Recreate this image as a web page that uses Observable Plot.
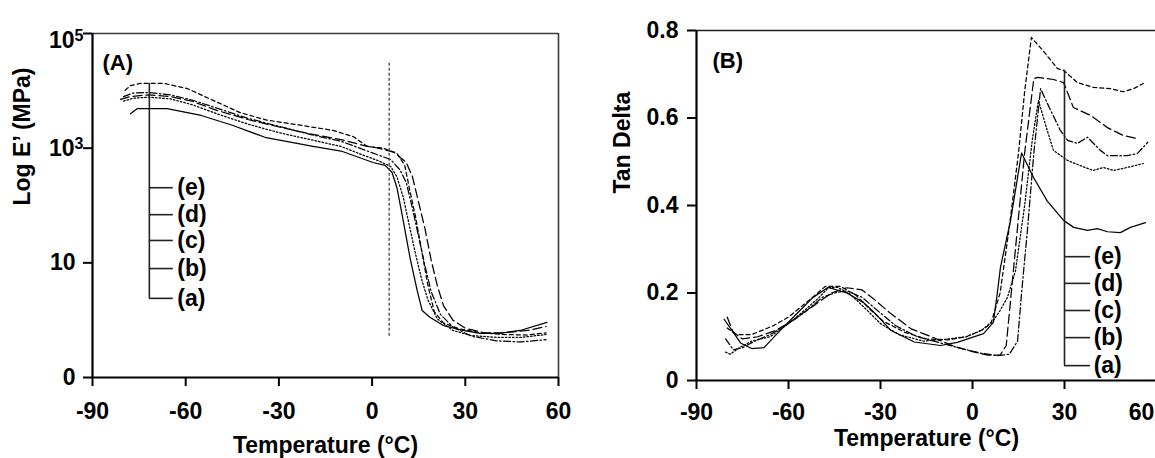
<!DOCTYPE html>
<html>
<head>
<meta charset="utf-8">
<script src="https://cdn.jsdelivr.net/npm/d3@7"></script>
<script src="https://cdn.jsdelivr.net/npm/@observablehq/plot@0.6"></script>
<style>
  html, body { margin: 0; padding: 0; background: #fff; }
  #wrap { position: relative; width: 1155px; height: 458px; overflow: hidden; background: #fff;
          font-family: "Liberation Sans", Arial, sans-serif; }
  #left { position: absolute; left: 0; top: 0; width: 580px; height: 458px; }
  #right { position: absolute; left: 580px; top: 0; width: 600px; height: 458px; }
  #wrap svg { max-width: none !important; }
  #wrap svg text { font-weight: bold !important; fill: #000; }
</style>
</head>
<body>
<div id="wrap"><div id="left"></div><div id="right"></div></div>
<script>
// ---------- data ----------
const tempTicks = [-90, -60, -30, 0, 30, 60];
const logTicks = [-1, 1, 3, 5];
const logTickLabels = ["0", "10", "10^3", "10^5"];
const tanTicks = [0, 0.2, 0.4, 0.6, 0.8];
const seriesLabels = ["(a)", "(b)", "(c)", "(d)", "(e)"];

// Panel A: log10 E' (MPa) vs temperature (°C)
const modA = [[-77.8,3.60],[-75.5,3.69],[-66,3.69],[-55,3.57],[-45,3.40],[-34.5,3.19],[-19,3.03],[-10,2.95],[0.3,2.75],[4.2,2.70],[6.4,2.58],[8,2.31],[10,1.74],[12.2,1.09],[14.5,0.52],[16.1,0.17],[18.6,0.05],[22.8,-0.09],[29.3,-0.18],[34.7,-0.23],[41,-0.23],[47.6,-0.18],[56.3,-0.04]];
const modB = [[-80,3.82],[-77,3.87],[-72,3.89],[-65,3.86],[-58,3.76],[-50,3.6],[-40,3.42],[-30,3.27],[-20,3.15],[-10,3.03],[-3,2.88],[2,2.78],[6,2.68],[8,2.5],[10,2.15],[12,1.65],[14,1.15],[16,0.7],[18,0.35],[21,0.02],[26,-0.18],[32,-0.27],[40,-0.3],[48,-0.3],[56,-0.25]];
const modC = [[-80,3.9],[-77,3.96],[-72,3.97],[-65,3.93],[-58,3.84],[-50,3.7],[-40,3.52],[-30,3.38],[-20,3.24],[-10,3.12],[-3,2.98],[2,2.88],[6,2.8],[9,2.62],[11,2.4],[13,1.95],[15,1.45],[17,0.95],[19,0.5],[22,0.1],[26,-0.12],[32,-0.28],[40,-0.36],[48,-0.38],[56,-0.34]];
const modD = [[-81,3.85],[-78,3.9],[-72,3.93],[-65,3.9],[-58,3.82],[-50,3.66],[-40,3.5],[-30,3.37],[-20,3.25],[-10,3.15],[-3,3.05],[2,3.0],[7,2.93],[11,2.75],[13,2.5],[15,2.05],[17,1.6],[19,1.05],[21,0.6],[23,0.25],[26,0.0],[30,-0.14],[36,-0.22],[42,-0.22],[50,-0.18],[56,-0.11]];
const modE = [[-79.5,4.01],[-77.8,4.09],[-74.6,4.13],[-67,4.13],[-59.5,4.04],[-51,3.83],[-42.5,3.62],[-34,3.49],[-23,3.40],[-12.6,3.31],[-6,3.2],[-1.6,3.03],[3.5,3.0],[8,2.91],[10.5,2.7],[12,2.3],[14,1.8],[16,1.2],[18,0.6],[20,0.15],[23,-0.05],[28,-0.15],[35,-0.22],[42,-0.25],[50,-0.26],[56,-0.22]];

// Panel B: tan delta vs temperature (°C)
const tanA = [[-81,0.14],[-78,0.11],[-75.5,0.085],[-72,0.073],[-68,0.075],[-62.6,0.115],[-57,0.155],[-52,0.19],[-47,0.213],[-41,0.20],[-35.5,0.178],[-32,0.155],[-26.7,0.115],[-19,0.088],[-10.4,0.08],[-5,0.087],[3.6,0.107],[6.8,0.133],[8.1,0.2],[9.1,0.258],[12.4,0.366],[16,0.52],[19.9,0.464],[24.4,0.41],[29.7,0.366],[33,0.35],[37.5,0.343],[40.7,0.347],[44,0.34],[48.2,0.338],[51.5,0.35],[56.4,0.361]];
const tanB = [[-80.5,0.065],[-79,0.06],[-76,0.075],[-72,0.09],[-66,0.1],[-60,0.13],[-54,0.165],[-50,0.19],[-47,0.212],[-44,0.213],[-40,0.198],[-35,0.165],[-30,0.13],[-24,0.105],[-16,0.09],[-8,0.095],[-2,0.1],[3,0.115],[6.8,0.137],[9,0.16],[11.4,0.19],[14,0.25],[17,0.4],[19.5,0.55],[21.5,0.64],[24.4,0.571],[26.4,0.526],[31,0.503],[35.2,0.491],[39.4,0.48],[42.7,0.487],[46,0.48],[50.5,0.487],[55.7,0.496]];
const tanC = [[-80.5,0.095],[-78,0.07],[-75,0.075],[-71,0.09],[-66,0.105],[-60,0.13],[-54,0.16],[-49,0.19],[-45,0.2],[-41,0.205],[-36,0.19],[-31,0.16],[-25,0.125],[-18,0.1],[-10,0.085],[-3,0.072],[3,0.062],[8,0.057],[12,0.06],[14.7,0.09],[16,0.2],[17.9,0.343],[20,0.52],[22.2,0.667],[25.5,0.617],[28.7,0.571],[31,0.549],[34.2,0.542],[37.5,0.556],[41.7,0.526],[44,0.514],[50.5,0.514],[53.8,0.519],[57.1,0.544]];
const tanD = [[-80,0.145],[-78,0.11],[-75,0.095],[-70,0.1],[-64,0.115],[-58,0.14],[-52,0.17],[-46,0.2],[-41,0.212],[-36,0.207],[-32,0.185],[-27,0.155],[-20,0.118],[-12,0.096],[-6,0.078],[0,0.066],[5,0.058],[9,0.058],[11,0.08],[14,0.3],[17,0.52],[20,0.69],[21.2,0.693],[26.4,0.688],[29.7,0.681],[32.9,0.624],[38.5,0.606],[44,0.578],[49.2,0.56],[53.8,0.553]];
const tanE = [[-80,0.12],[-77,0.105],[-72,0.105],[-65,0.125],[-60,0.145],[-53,0.185],[-48,0.215],[-43,0.215],[-38,0.195],[-33,0.16],[-29,0.135],[-22,0.11],[-15,0.095],[-8,0.093],[-2,0.1],[3,0.115],[6,0.13],[9,0.2],[12,0.35],[15,0.52],[17,0.66],[19.2,0.784],[23,0.754],[27.7,0.713],[29.7,0.709],[34.2,0.681],[39.4,0.67],[45,0.667],[49.2,0.66],[52.5,0.667],[55.7,0.679]];

// ---------- styling ----------
const dashes = [undefined, "1.6,2", "7,2.5,1.5,2.5", "9,4", "4,3"];
const FONT = "'Liberation Sans', Arial, Helvetica, sans-serif";

function seriesMarks(list) {
  return list.map((s, i) => Plot.line(s, {
    x: d => d[0], y: d => d[1], stroke: "#000", strokeWidth: 1.25,
    strokeDasharray: dashes[i], curve: "linear"
  }));
}

function legendMarks(levels, x0, x1, xText, yTop) {
  return [
    Plot.ruleX([x0], {y1: yTop, y2: levels[0], stroke: "#222", strokeWidth: 1.6}),
    Plot.ruleY(levels, {x1: x0, x2: x1, stroke: "#222", strokeWidth: 1.6}),
    Plot.text(levels, {x: xText, y: d => d, text: (d, i) => seriesLabels[i],
      textAnchor: "start", lineAnchor: "middle", fontSize: 23, fontWeight: "bold", fill: "#000"})
  ];
}

// ---------- Panel A ----------
const left = Plot.plot({
  width: 580, height: 458,
  marginLeft: 92, marginRight: 22, marginTop: 33, marginBottom: 81,
  style: {fontFamily: FONT, fontSize: "23px", fontWeight: "bold", color: "#000", background: "transparent", overflow: "visible"},
  x: {domain: [-90, 60]},
  y: {domain: [-1, 5]},
  marks: [
    ...seriesMarks([modA, modB, modC, modD, modE]),
    Plot.ruleX([5.5], {y1: 4.48, y2: -0.29, stroke: "#444", strokeWidth: 1.3, strokeDasharray: "3,2"}),
    ...legendMarks([0.38, 0.90, 1.39, 1.84, 2.31], -71.7, -64, -62.7, 4.13),
    Plot.ruleY([5], {stroke: "#3a3a3a", strokeWidth: 1.6}),
    Plot.ruleX([60], {stroke: "#3a3a3a", strokeWidth: 1.6}),
    Plot.axisX(tempTicks, {tickSize: 9, tickPadding: 16, strokeWidth: 2, label: null, fontSize: 23, fontWeight: "bold",
      tickFormat: d => String(d)}),
    Plot.axisY(logTicks, {tickSize: 9, tickPadding: 8, strokeWidth: 2, label: null, fontSize: 23, fontWeight: "bold",
      tickFormat: d => logTickLabels[logTicks.indexOf(d)]}),
    Plot.ruleX([-90], {stroke: "#000", strokeWidth: 2.2}),
    Plot.ruleY([-1], {stroke: "#000", strokeWidth: 2.2}),
    Plot.text(["(A)"], {frameAnchor: "top-left", dx: 10, dy: 29, textAnchor: "start", lineAnchor: "middle", fontSize: 22, fontWeight: "bold"}),
    Plot.text(["Temperature (°C)"], {frameAnchor: "bottom", dy: 68, lineAnchor: "middle", fontSize: 23, fontWeight: "bold"}),
    Plot.text(["Log E’ (MPa)"], {frameAnchor: "left", dx: -70, rotate: -90, lineAnchor: "middle", fontSize: 23, fontWeight: "bold"})
  ]
});

// superscript tick labels
left.querySelectorAll("text").forEach(t => {
  const m = t.textContent.match(/^10\^(\d)$/);
  if (m) {
    t.textContent = "10";
    const ts = document.createElementNS("http://www.w3.org/2000/svg", "tspan");
    ts.setAttribute("dy", "-0.42em");
    ts.setAttribute("font-size", "16");
    ts.textContent = m[1];
    t.appendChild(ts);
    const extra = m[1] === "5" ? 7 : 0;
    t.setAttribute("transform", (t.getAttribute("transform") || "") + ` translate(8,${extra})`);
  }
});
left.style.maxWidth = "none";
document.getElementById("left").appendChild(left);

// ---------- Panel B ----------
const right = Plot.plot({
  width: 600, height: 458,
  marginLeft: 116, marginRight: 24, marginTop: 30, marginBottom: 78,
  style: {fontFamily: FONT, fontSize: "23px", fontWeight: "bold", color: "#000", background: "transparent", overflow: "visible"},
  x: {domain: [-90, 60]},
  y: {domain: [0, 0.8]},
  marks: [
    ...seriesMarks([tanA, tanB, tanC, tanD, tanE]),
    ...legendMarks([0.034, 0.098, 0.16, 0.222, 0.283], 30, 38.5, 39.5, 0.709),
    Plot.ruleY([0.8], {stroke: "#222", strokeWidth: 1.6}),
    Plot.axisX(tempTicks, {tickSize: 9, tickPadding: 14, strokeWidth: 2, label: null, fontSize: 23, fontWeight: "bold",
      tickFormat: d => String(d)}),
    Plot.axisY(tanTicks, {tickSize: 9, tickPadding: 9, strokeWidth: 2, label: null, fontSize: 23, fontWeight: "bold",
      tickFormat: d => d === 0 ? "0" : d.toFixed(1)}),
    Plot.ruleX([-90], {stroke: "#000", strokeWidth: 2.2}),
    Plot.ruleY([0], {stroke: "#000", strokeWidth: 2.2}),
    Plot.text(["(B)"], {frameAnchor: "top-left", dx: 16, dy: 30, textAnchor: "start", lineAnchor: "middle", fontSize: 22, fontWeight: "bold"}),
    Plot.text(["Temperature (°C)"], {frameAnchor: "bottom", dy: 58, lineAnchor: "middle", fontSize: 23, fontWeight: "bold"}),
    Plot.text(["Tan Delta"], {frameAnchor: "left", dx: -74, dy: -12, rotate: -90, lineAnchor: "middle", fontSize: 23, fontWeight: "bold"})
  ]
});
// keep the right-edge "60" tick label inside the window
right.querySelectorAll("text").forEach(t => {
  if (t.textContent === "60") {
    t.setAttribute("transform", (t.getAttribute("transform") || "") + " translate(-15,0)");
  }
});
right.style.maxWidth = "none";
document.getElementById("right").appendChild(right);
</script>
</body>
</html>
